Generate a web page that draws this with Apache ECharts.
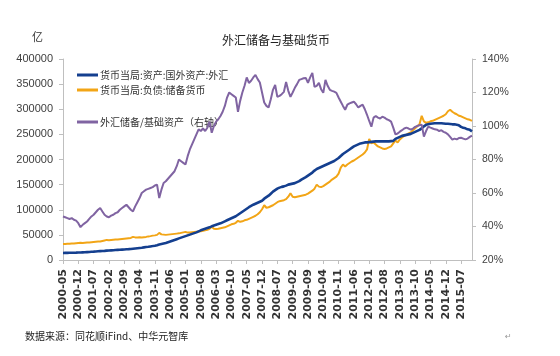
<!DOCTYPE html>
<html><head><meta charset="utf-8">
<script src="https://cdn.jsdelivr.net/npm/echarts@6/dist/echarts.min.js"></script>
<style>html,body{margin:0;padding:0;background:#fff}#c{width:560px;height:356px}</style>
</head><body><div id="c"></div>
<script>
// categories: monthly, 2000-05 .. 2015-12
const startYear = 2000, startMonth = 5, monthCount = 188;
const months = [];
for (let k = 0; k < monthCount; k++) {
  const m = startMonth - 1 + k;
  const y = startYear + Math.floor(m / 12);
  const mm = (m % 12) + 1;
  months.push(y + '-' + (mm < 10 ? '0' : '') + mm);
}

const seriesNames = ['货币当局:资产:国外资产:外汇', '货币当局:负债:储备货币', '外汇储备/基础资产（右轴）'];

// 货币当局:资产:国外资产:外汇 (亿)
const fxAssets = [
14000,14100,14200,14300,14400,14500,14600,14800,15000,
15200,15400,15700,16000,16300,16600,17000,17300,17600,17900,18200,18600,
18900,19200,19500,19800,20100,20400,20700,21000,21300,21600,22000,22500,
23000,23500,24000,24500,25100,25700,26300,27000,27700,28500,29500,31000,
32000,33000,34000,35500,37000,38500,40000,41500,43000,44500,46000,47500,
49000,50500,52000,53500,55000,57000,59000,60500,62000,63500,65000,67000,
68500,70000,71500,73000,75000,77000,79000,81000,83000,85000,87000,90000,
93000,96000,99000,102000,105000,107500,110000,112000,114000,116000,118000,122000,
125000,128000,132000,136000,139000,142000,144000,145500,146500,148000,150000,151000,
152000,153000,155000,157000,160000,162500,165000,168000,171000,174000,178000,181000,
183000,185000,187000,189000,191000,193000,195000,197000,200000,203000,207000,211000,
214000,217000,220000,223000,226000,228000,230000,232000,233000,234000,234000,234500,
235000,235500,236000,236000,236000,236000,236000,236000,236000,236500,237000,241000,
243000,245000,247000,248000,249000,250000,251000,253000,255000,257000,259000,262000,
266000,269000,270000,271000,271500,272000,272000,272000,272000,271500,271000,271000,
270500,270000,270000,269000,268000,265000,263000,262000,260000,259000,256000
];

// 货币当局:负债:储备货币 (亿)
const reserveMoney = [
32000,32000,32500,32500,33000,33000,33500,34000,34500,
34000,34500,35000,35000,35500,36000,36500,37000,37000,38000,39000,40000,
39500,40000,40500,41000,41000,41500,42000,42500,43000,43500,44000,46000,
45000,45000,45500,45000,45500,46000,47000,47500,48500,49000,50000,54000,
51000,50500,50000,50500,51000,51500,52000,52500,53000,54000,55000,56000,
54500,54500,55000,55500,56000,56500,57000,58000,59000,60000,62000,66000,
62000,61500,62000,63000,64000,65000,67000,69000,71000,72000,74000,78000,
76000,77000,79000,80000,82000,84000,86000,88000,91000,95000,101000,109000,
104000,105000,107000,109000,112000,115000,117000,118000,119000,121000,126000,133000,
126000,125000,126000,127000,128000,129000,130000,132000,135000,138000,142000,150000,
146000,145000,147000,150000,153000,156000,160000,163000,166000,172000,184000,190000,
186000,190000,193000,196000,198000,201000,204000,207000,210000,214000,220000,241000,
232000,234000,230000,226000,224000,222000,221000,222000,224000,226000,232000,238000,
234000,240000,244000,247000,249000,252000,254000,258000,262000,266000,270000,287000,
276000,273000,274000,276000,277000,279000,281000,283000,285000,287000,290000,296000,
299000,295000,292000,290000,287000,286000,284000,282000,280000,279000,277000
];

// 外汇储备/基础资产 (%), right axis
const fxRatio = [
46,45.5,45,44.5,45,44,43.5,42,39.6,
41,42,43,44.5,46,47,48.5,50,51,49,47,46,
45.5,46.5,47,48,48.5,50,51,52,53,51.5,50,49,
52,54.5,57,60,61,62,62.5,63,63.5,64.5,65,57,
62,66,67,68.5,70,71.5,73,76,80,79,78,77,
82,86,89,92,95,98,97,98.5,97,99,102.6,96,
100,102.6,104,106,108.5,112,117,120,119,118,117,108.5,
115,120,124,129,125.7,127,129,130.5,128,126,120,114,
112,111,116,121.6,124.5,117.4,118,119,120.4,126.3,121,117.4,
120,122.8,125,127.5,128,128.5,128.7,125.7,129,131.7,123.4,124,
125.7,122,119.8,127.5,124,121.6,121,120.5,119.8,117,114.5,112,
109.7,112.7,113.5,114,114.5,113,111,112,112.7,110,106.7,103,
99.6,105,106,105,104.5,105.5,105,104,103.5,102.6,99,95,
95.5,96.6,97.5,98.5,99,98.5,97.8,98.5,99.5,100,100.5,100.8,
93.7,97,99.6,99,98.5,98,97.8,97,97.5,96.5,96,95,
93.5,91.9,92.5,92,92.8,93,92.5,92,92.5,93.5,94.3
];

const leftTicks = {min: 0, max: 400000, interval: 50000};
const rightTicks = {min: 20, max: 140, interval: 20};

const axisGray = '#BFBFBF';
const labelGray = '#404040';
const cjk = '"Noto Sans CJK SC", sans-serif';

const chart = echarts.init(document.getElementById('c'), null, {renderer: 'canvas'});
chart.setOption({
  animation: false,
  backgroundColor: '#fff',
  title: {
    text: '外汇储备与基础货币',
    left: 217, top: 29,
    textStyle: {fontSize: 12, fontWeight: 'normal', color: '#222', fontFamily: cjk}
  },
  legend: [{
    data: [seriesNames[0], seriesNames[1]],
    orient: 'vertical', left: 72, top: 64,
    icon: 'rect', itemWidth: 21, itemHeight: 3, itemGap: 3,
    textStyle: {fontSize: 10, lineHeight: 12, color: '#333', fontFamily: cjk, padding: [0, 0, 0, -3]}
  }, {
    data: [seriesNames[2]],
    orient: 'vertical', left: 72, top: 111,
    icon: 'rect', itemWidth: 21, itemHeight: 3,
    textStyle: {fontSize: 10, lineHeight: 12, color: '#333', fontFamily: cjk, padding: [0, 0, 0, -3]}
  }],
  grid: {left: 63, right: 88, top: 59, bottom: 96, containLabel: false},
  xAxis: {
    type: 'category', data: months, boundaryGap: false,
    axisLine: {lineStyle: {color: axisGray, width: 1}},
    axisTick: {interval: 6, length: 4, lineStyle: {color: axisGray}},
    axisLabel: {interval: 6, rotate: 90, margin: 9, fontSize: 11, fontWeight: 'bold', color: '#333', fontFamily: '"DejaVu Sans", sans-serif'},
    splitLine: {show: false}
  },
  yAxis: [{
    type: 'value', min: leftTicks.min, max: leftTicks.max, interval: leftTicks.interval,
    axisLine: {show: true, lineStyle: {color: axisGray}},
    axisTick: {show: true, length: 4, lineStyle: {color: axisGray}},
    axisLabel: {fontSize: 11, color: labelGray, margin: 10, formatter: v => String(v), fontFamily: '"Liberation Sans", Arial, sans-serif'},
    splitLine: {show: false}
  }, {
    type: 'value', min: rightTicks.min, max: rightTicks.max, interval: rightTicks.interval,
    position: 'right',
    axisLine: {show: true, lineStyle: {color: axisGray}},
    axisTick: {show: true, length: 4, lineStyle: {color: axisGray}},
    axisLabel: {fontSize: 10.5, color: labelGray, margin: 10, formatter: '{value}%', fontFamily: '"Liberation Sans", Arial, sans-serif'},
    splitLine: {show: false}
  }],
  series: [{
    name: seriesNames[1], type: 'line', yAxisIndex: 0, data: reserveMoney,
    symbol: 'none', itemStyle: {color: '#F2A516'}, lineStyle: {color: '#F2A516', width: 2}, z: 2
  }, {
    name: seriesNames[0], type: 'line', yAxisIndex: 0, data: fxAssets,
    symbol: 'none', itemStyle: {color: '#143F8F'}, lineStyle: {color: '#143F8F', width: 2.6}, z: 3
  }, {
    name: seriesNames[2], type: 'line', yAxisIndex: 1, data: fxRatio,
    symbol: 'none', itemStyle: {color: '#8064A2'}, lineStyle: {color: '#8064A2', width: 2}, z: 4
  }],
  graphic: [{
    type: 'text', left: 32, top: 31,
    style: {text: '亿', fontSize: 11, fill: '#333', fontFamily: cjk}
  }, {
    type: 'text', left: 25, top: 331,
    style: {text: '数据来源：同花顺iFind、中华元智库', fontSize: 10, fill: '#222', fontFamily: cjk}
  }, {
    type: 'text', left: 505, top: 333,
    style: {text: '↵', fontSize: 8, fill: '#999', fontFamily: '"DejaVu Sans", sans-serif'}
  }]
});
</script></body></html>
